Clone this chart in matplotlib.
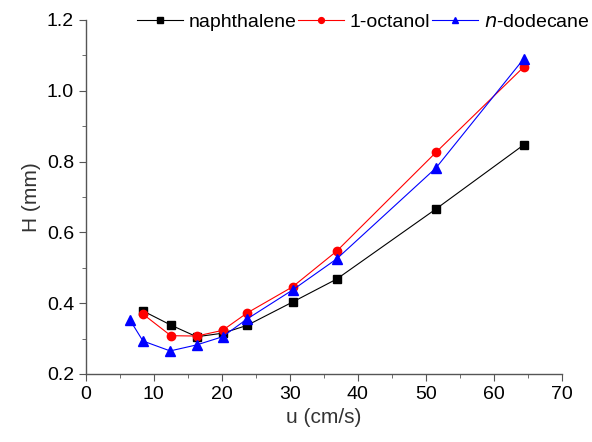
import matplotlib.pyplot as plt
from matplotlib.ticker import MultipleLocator

plt.rcParams['font.family'] = ['Liberation Sans', 'DejaVu Sans']

u_naph = [8.4, 12.5, 16.3, 20.1, 23.7, 30.4, 36.9, 51.5, 64.4]
h_naph = [0.378, 0.338, 0.305, 0.315, 0.337, 0.403, 0.468, 0.666, 0.847]

u_oct = [8.4, 12.5, 16.3, 20.1, 23.7, 30.4, 36.9, 51.5, 64.4]
h_oct = [0.369, 0.308, 0.307, 0.323, 0.372, 0.446, 0.547, 0.826, 1.067]

u_dod = [6.5, 8.4, 12.4, 16.3, 20.1, 23.7, 30.4, 36.9, 51.5, 64.4]
h_dod = [0.352, 0.293, 0.265, 0.282, 0.305, 0.355, 0.437, 0.525, 0.782, 1.090]

fig = plt.figure(figsize=(5.92, 4.42), dpi=100)
ax = fig.add_axes([0.145, 0.154, 0.804, 0.801])

ax.plot(u_naph, h_naph, color='black', marker='s', markersize=5.5, lw=0.8, label='naphthalene')
ax.plot(u_oct, h_oct, color='red', marker='o', markersize=6, lw=0.8, label='1-octanol')
ax.plot(u_dod, h_dod, color='blue', marker='^', markersize=7, lw=0.8, label='$\\it{n}$-dodecane')

ax.set_xlim(0, 70)
ax.set_ylim(0.2, 1.2)
ax.xaxis.set_major_locator(MultipleLocator(10))
ax.xaxis.set_minor_locator(MultipleLocator(5))
ax.yaxis.set_major_locator(MultipleLocator(0.2))
ax.yaxis.set_minor_locator(MultipleLocator(0.1))
ax.yaxis.set_major_formatter(plt.FormatStrFormatter('%.1f'))

for s in ['top', 'right']:
    ax.spines[s].set_visible(False)
for s in ['left', 'bottom']:
    ax.spines[s].set_color('#555555')
    ax.spines[s].set_linewidth(1.0)

ax.tick_params(which='both', direction='out', colors='#555555', labelcolor='black', labelsize=14)
ax.tick_params(which='major', length=5)
ax.tick_params(which='minor', length=3)

ax.set_xlabel('u (cm/s)', fontsize=15, color='#333333')
ax.set_ylabel('H (mm)', fontsize=15, color='#333333')

ax.legend(loc='center right', bbox_to_anchor=(0.996, 0.950), bbox_transform=fig.transFigure,
          ncol=3, frameon=False, fontsize=14, handlelength=2.35, columnspacing=0.1,
          handletextpad=0.3, borderpad=0, borderaxespad=0, markerscale=0.7)

fig.savefig('out.png', dpi=100)
